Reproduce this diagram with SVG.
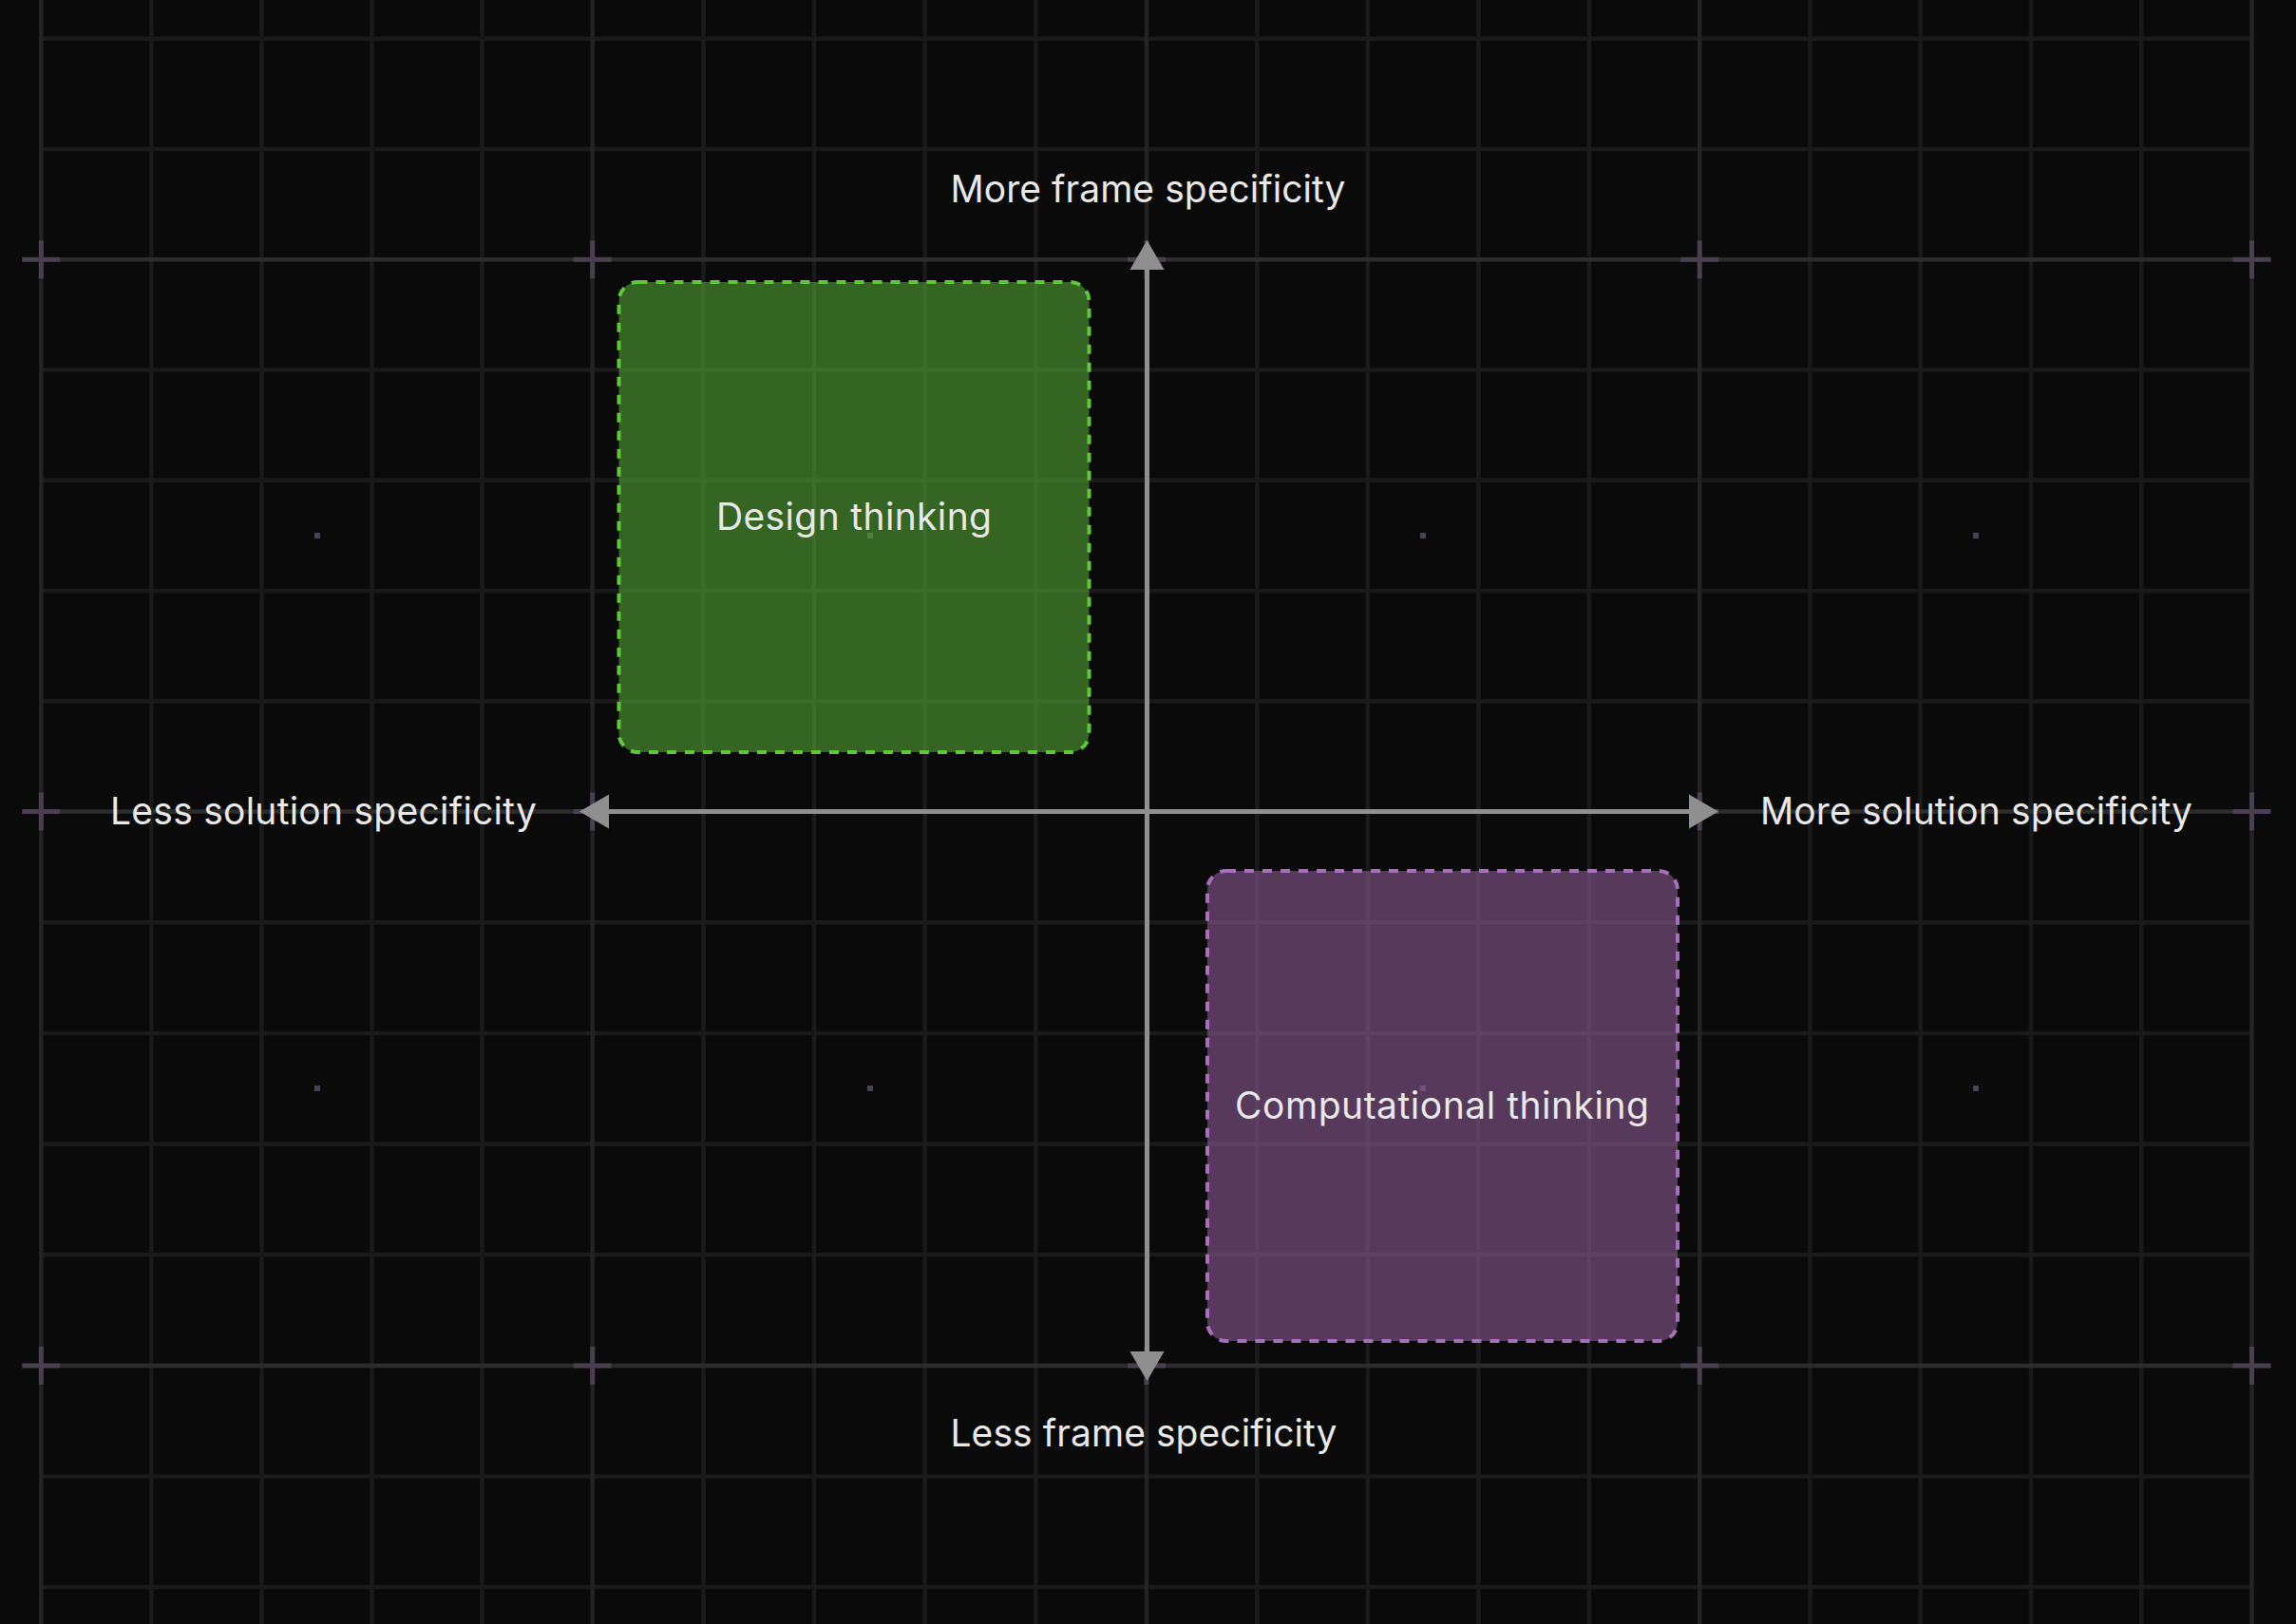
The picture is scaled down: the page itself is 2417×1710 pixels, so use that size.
<svg xmlns="http://www.w3.org/2000/svg" width="2417" height="1710" viewBox="0 0 2417 1710">
<defs>
<style>
.bg{fill:#0a0a0a}
.minor{stroke:#1a1a1a;stroke-width:4.5;fill:none}
.majv{stroke:#232323;stroke-width:4.5;fill:none}
.majh{stroke:#2c2c2c;stroke-width:4.5;fill:none}
.cross{stroke:#4a3f4f;stroke-width:5;fill:none}
.dot{fill:#4b3f57}
.box-green{fill:#5ab036;fill-opacity:0.55;stroke:#5ec83a;stroke-width:4;stroke-dasharray:10 9}
.box-purple{fill:#94609c;fill-opacity:0.56;stroke:#aa6ebe;stroke-width:4;stroke-dasharray:10 9}
.axis{stroke:#8f8f8f;stroke-width:5;fill:none;marker-start:url(#ah);marker-end:url(#ah)}
.lbl{font-family:Inter,"Noto Sans","Liberation Sans",sans-serif;font-size:39px;fill:#e8e8e8;text-anchor:middle}
</style>
<marker id="ah" markerUnits="userSpaceOnUse" markerWidth="32" markerHeight="38" viewBox="0 -18 31 36" refX="0" refY="0" orient="auto-start-reverse">
<path d="M0,-17.5 L30,0 L0,17.5 Z" fill="#8f8f8f"/>
</marker>
</defs>
<rect class="bg" x="0" y="0" width="2417" height="1710"/>
<g id="grid">
<g id="grid-minor-v">
<path class="minor" d="M159.4,0V1710 M275.5,0V1710 M391.5,0V1710 M507.6,0V1710 M740.4,0V1710 M857,0V1710 M973.7,0V1710 M1090.3,0V1710 M1323.4,0V1710 M1439.9,0V1710 M1556.3,0V1710 M1672.8,0V1710 M1905.5,0V1710 M2021.7,0V1710 M2138,0V1710 M2254.2,0V1710"/>
</g>
<g id="grid-minor-h">
<path class="minor" d="M43.3,40.7H2370.5 M43.3,157H2370.5 M43.3,389.5H2370.5 M43.3,505.8H2370.5 M43.3,622H2370.5 M43.3,738.3H2370.5 M43.3,971.2H2370.5 M43.3,1087.9H2370.5 M43.3,1204.6H2370.5 M43.3,1321.3H2370.5 M43.3,1554.5H2370.5 M43.3,1671H2370.5"/>
</g>
<g id="grid-major">
<path class="majv" d="M43.3,0V1710 M623.7,0V1710 M1207,0V1710 M1789.2,0V1710 M2370.5,0V1710"/>
<path class="majh" d="M43.3,273.3H2370.5 M43.3,854.5H2370.5 M43.3,1438H2370.5"/>
</g>
<g id="grid-crosses">
<path class="cross" d="M23.3,273.3h40 M43.3,253.3v40 M603.7,273.3h40 M623.7,253.3v40 M1187,273.3h40 M1207,253.3v40 M1769.2,273.3h40 M1789.2,253.3v40 M2350.5,273.3h40 M2370.5,253.3v40
M23.3,854.5h40 M43.3,834.5v40 M603.7,854.5h40 M623.7,834.5v40 M1769.2,854.5h40 M1789.2,834.5v40 M2350.5,854.5h40 M2370.5,834.5v40
M23.3,1438h40 M43.3,1418v40 M603.7,1438h40 M623.7,1418v40 M1187,1438h40 M1207,1418v40 M1769.2,1438h40 M1789.2,1418v40 M2350.5,1438h40 M2370.5,1418v40"/>
</g>
<g id="grid-dots">
<rect class="dot" x="331" y="561" width="6" height="6"/>
<rect class="dot" x="913" y="561" width="6" height="6"/>
<rect class="dot" x="1495" y="561" width="6" height="6"/>
<rect class="dot" x="2077" y="561" width="6" height="6"/>
<rect class="dot" x="331" y="1143" width="6" height="6"/>
<rect class="dot" x="913" y="1143" width="6" height="6"/>
<rect class="dot" x="1495" y="1143" width="6" height="6"/>
<rect class="dot" x="2077" y="1143" width="6" height="6"/>
</g>
</g>
<g id="node-design-thinking">
<rect class="box-green" x="651.5" y="297" width="495" height="495" rx="20" ry="20"/>
<text class="lbl" x="899" y="558" textLength="290">Design thinking</text>
</g>
<g id="node-computational-thinking">
<rect class="box-purple" x="1271" y="917" width="495" height="495" rx="20" ry="20"/>
<text class="lbl" x="1518" y="1178" textLength="436">Computational thinking</text>
</g>
<g id="connectors">
<line id="axis-solution" class="axis" x1="641" y1="854.5" x2="1778" y2="854.5"/>
<line id="axis-frame" class="axis" x1="1207.5" y1="284" x2="1207.5" y2="1423"/>
</g>
<g id="axis-labels">
<g id="label-more-frame"><text class="lbl" x="1208.5" y="212.5" textLength="416">More frame specificity</text></g>
<g id="label-less-frame"><text class="lbl" x="1204" y="1522.5" textLength="407">Less frame specificity</text></g>
<g id="label-less-solution"><text class="lbl" x="340.5" y="868" textLength="449">Less solution specificity</text></g>
<g id="label-more-solution"><text class="lbl" x="2080.5" y="868" textLength="455">More solution specificity</text></g>
</g>
</svg>
